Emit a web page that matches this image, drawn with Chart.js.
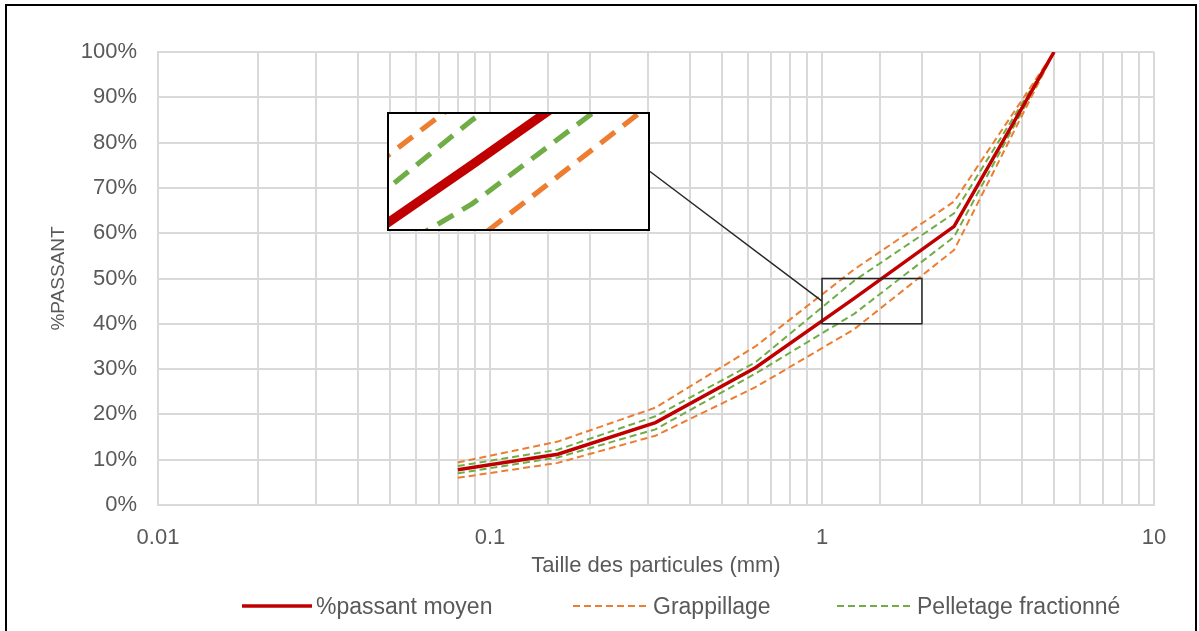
<!DOCTYPE html>
<html>
<head>
<meta charset="utf-8">
<script src="https://cdn.jsdelivr.net/npm/chart.js@4.4.1/dist/chart.umd.min.js"></script>
<style>
  body { margin: 0; width: 1199px; height: 631px; overflow: hidden; background: #fff;
         font-family: "Liberation Sans", Arial, sans-serif; }
  #main { position: absolute; left: 0; top: 0; }
  #frame { position: absolute; left: 5px; top: 4px; width: 1188px; height: 700px;
           border: 2px solid #000; pointer-events: none; }
  #inset { position: absolute; left: 387px; top: 112px; width: 259px; height: 115px;
           border: 2px solid #000; background: #fff; }
  #legend { position: absolute; left: 0; top: 593px; width: 1199px; height: 26px; }
  .item { position: absolute; top: 0; display: flex; align-items: center; height: 26px;
          font-size: 23px; color: #595959; white-space: nowrap; }
  .item svg { margin-right: 4px; }
</style>
</head>
<body>
<canvas id="main" width="1199" height="631"></canvas>
<div id="inset"><canvas id="zoom" width="259" height="115"></canvas></div>
<div id="legend"></div>
<div id="frame"></div>
<script>
// sieve sizes (mm) and % passing
const sizes = [0.08, 0.16, 0.315, 0.63, 1.25, 2.5, 5];
const passantMoyen    = [7.8, 11.2, 18.2, 30.3, 45.6, 61.5, 100];
const grappillageHaut = [9.4, 14, 21.5, 35, 52, 67, 100];
const grappillageBas  = [6, 9.3, 15.3, 26, 38.8, 56.3, 100];
const pelletageHaut   = [8.6, 12.2, 19.6, 31.5, 49.5, 64.4, 100];
const pelletageBas    = [7, 10.5, 16.7, 29, 42.2, 59.2, 100];

const xTickLabels = [0.01, 0.1, 1, 10];
const zoomX = [1, 2];
const zoomY = [40, 50];

const seriesNames = ['%passant moyen', 'Grappillage', 'Pelletage fractionné'];
const RED = '#c00000', ORANGE = '#ed7d31', GREEN = '#70ad47';
const TEXT = '#595959', GRID = '#d9d9d9';

function toPoints(values) {
    return sizes.map((s, i) => ({ x: s, y: values[i] }));
}

// k = line thickness multiplier (the inset is a magnified view)
function buildDatasets(k) {
    const solid = { borderWidth: 3.5 * k };
    const dashed = { borderWidth: 2 * k, borderDash: [7 * k, 4 * k] };
    return [
        { label: seriesNames[0], data: toPoints(passantMoyen), borderColor: RED, ...solid },
        { label: seriesNames[1], data: toPoints(grappillageHaut), borderColor: ORANGE, ...dashed },
        { label: seriesNames[1], data: toPoints(grappillageBas), borderColor: ORANGE, ...dashed },
        { label: seriesNames[2], data: toPoints(pelletageHaut), borderColor: GREEN, ...dashed },
        { label: seriesNames[2], data: toPoints(pelletageBas), borderColor: GREEN, ...dashed }
    ].map(d => Object.assign({ pointRadius: 0, tension: 0, fill: false }, d));
}

function isPowerOfTen(v) {
    const l = Math.log10(v);
    return Math.abs(l - Math.round(l)) < 1e-9;
}

// box around the zoomed region + connector to the inset
const zoomBoxPlugin = {
    id: 'zoomBox',
    afterDatasetsDraw(chart) {
        const { ctx, scales: { x, y } } = chart;
        const left = x.getPixelForValue(zoomX[0]);
        const right = x.getPixelForValue(zoomX[1]);
        const top = y.getPixelForValue(zoomY[1]);
        const bottom = y.getPixelForValue(zoomY[0]);
        const box = document.getElementById('inset');
        const bx = box.offsetLeft + box.offsetWidth;
        const by = box.offsetTop + box.offsetHeight / 2;
        ctx.save();
        ctx.strokeStyle = '#262626';
        ctx.lineWidth = 1.5;
        ctx.strokeRect(left, top, right - left, bottom - top);
        ctx.beginPath();
        ctx.moveTo(bx, by);
        ctx.lineTo(left, (top + bottom) / 2);
        ctx.stroke();
        ctx.restore();
    }
};

Chart.defaults.font.family = '"Liberation Sans", Arial, sans-serif';
Chart.defaults.color = TEXT;

new Chart(document.getElementById('main'), {
    type: 'line',
    data: { datasets: buildDatasets(1) },
    options: {
        responsive: false,
        animation: false,
        layout: { padding: { left: 0, top: 52, right: 45, bottom: 36 } },
        plugins: { legend: { display: false }, tooltip: { enabled: false } },
        scales: {
            x: {
                type: 'logarithmic',
                min: 0.01,
                max: 10,
                grid: { color: GRID, lineWidth: 2, drawTicks: false },
                border: { color: GRID, width: 2 },
                ticks: {
                    autoSkip: false,
                    maxRotation: 0,
                    padding: 20,
                    color: TEXT,
                    font: { size: 22 },
                    callback: v => {
                        if (!isPowerOfTen(v)) return '';
                        if (!xTickLabels.some(t => Math.abs(t - v) < 1e-9)) return '';
                        return v >= 1 ? String(Math.round(v)) : v.toFixed(-Math.round(Math.log10(v)));
                    }
                },
                title: {
                    display: true,
                    text: 'Taille des particules (mm)',
                    color: TEXT,
                    font: { size: 22 },
                    padding: { top: 0, bottom: 16 }
                },
                afterFit: s => { s.height = 90; }
            },
            y: {
                min: 0,
                max: 100,
                grid: { color: GRID, lineWidth: 2, drawTicks: false },
                border: { color: GRID, width: 2 },
                ticks: {
                    stepSize: 10,
                    padding: 21,
                    color: TEXT,
                    font: { size: 22 },
                    callback: v => v + '%'
                },
                title: {
                    display: true,
                    text: '%PASSANT',
                    color: TEXT,
                    font: { size: 19 },
                    padding: { top: 47, bottom: 0 }
                },
                afterFit: s => { s.width = 158; }
            }
        }
    },
    plugins: [zoomBoxPlugin]
});

// magnified inset of the boxed region
new Chart(document.getElementById('zoom'), {
    type: 'line',
    data: { datasets: buildDatasets(2.6) },
    options: {
        responsive: false,
        animation: false,
        layout: { padding: 0 },
        plugins: { legend: { display: false }, tooltip: { enabled: false } },
        scales: {
            x: { type: 'logarithmic', min: zoomX[0], max: zoomX[1], display: false },
            y: { min: zoomY[0], max: zoomY[1], display: false }
        }
    }
});

// legend
const legendItems = [
    { name: seriesNames[0], color: RED, width: 3.5, dash: '', left: 242, sample: 70 },
    { name: seriesNames[1], color: ORANGE, width: 2, dash: '7 4', left: 573, sample: 76 },
    { name: seriesNames[2], color: GREEN, width: 2, dash: '7 4', left: 837, sample: 76 }
];
const legend = document.getElementById('legend');
legendItems.forEach(it => {
    const el = document.createElement('div');
    el.className = 'item';
    el.style.left = it.left + 'px';
    el.innerHTML = `<svg width="${it.sample}" height="8"><line x1="0" y1="4" x2="${it.sample}" y2="4"
        stroke="${it.color}" stroke-width="${it.width}" ${it.dash ? `stroke-dasharray="${it.dash}"` : ''}/></svg>
        <span>${it.name}</span>`;
    legend.appendChild(el);
});
</script>
</body>
</html>
